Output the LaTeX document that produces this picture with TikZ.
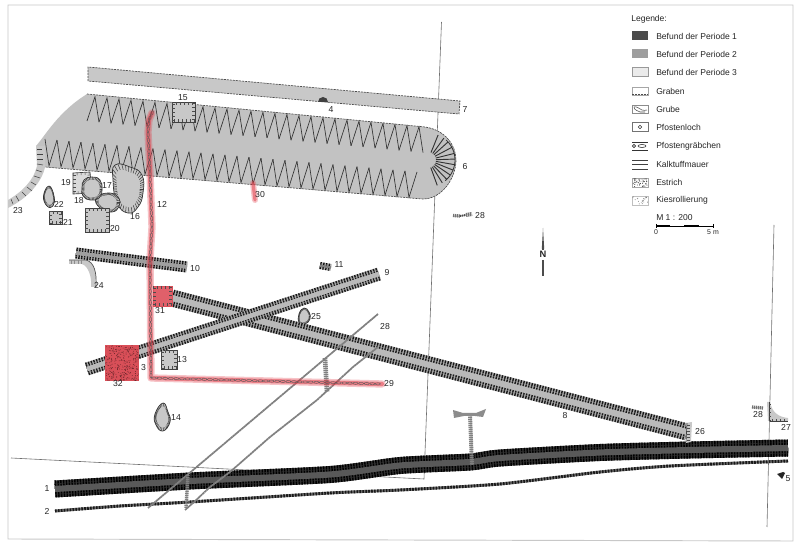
\documentclass[tikz,border=0pt]{standalone}
\usepackage{fontspec}
\setmainfont{Liberation Sans}
\usetikzlibrary{decorations.markings}
\definecolor{gA}{HTML}{C8C8C8}
\definecolor{gB}{HTML}{C2C2C2}
\definecolor{gD}{HTML}{333333}
\definecolor{frameC}{HTML}{C8C8C8}
\definecolor{siteC}{HTML}{707070}
\definecolor{redA}{HTML}{E0606A}
\definecolor{redB}{HTML}{D94F58}
\definecolor{redG}{HTML}{E23A46}
\tikzset{
  x=0.75pt,y=-0.75pt,
  lbl/.style={inner sep=0pt,font=\fontsize{6.5}{8}\selectfont,text=black!85},
  leg/.style={inner sep=0pt,anchor=west,font=\fontsize{6.4}{8}\selectfont,text=black!85},
  site/.style={draw=siteC,line width=.45pt},
  zig/.style={draw=black!80,line width=.5pt},
  pit/.style={draw=black!75,fill=gA,line width=.5pt,postaction=decorate,
    decoration={markings,mark=between positions 0 and 1 step 3pt with {\draw[line width=.35pt,draw=black!70] (0,0)--(0,-2pt);}}},
  swatch/.style={draw=black!55,line width=.4pt},
  grave/.style={draw=black!70,line width=.5pt,dash pattern=on 1.6pt off .7pt},
  chain/.style={postaction=decorate,decoration={markings,mark=between positions 0 and 1 step 4.2pt with {\draw[line width=.3pt,draw=black!65] (0,0) ellipse (1.9pt and .8pt);}}},
  rough/.style={draw=black!50,line width=1.3pt,dash pattern=on 1.8pt off .3pt},
  rougher/.style={draw=black!55,dash pattern=on 1pt off .5pt},
}
% layered band with rows of short ticks
\newcommand{\trenchband}[5]{%
  \draw[line width=#2*0.75pt,draw=#3] #1;
  \draw[line width=#2*0.75pt,draw=#4,dash pattern=on 1.05pt off 1.05pt] #1;
  \draw[line width=#2*0.48pt,draw=#3] #1;
  \draw[line width=#2*0.45pt,draw=#4,dash pattern=on 1.05pt off 1.05pt] #1;
  \draw[line width=#2*0.27pt,draw=#5] #1;
}
% pit with radial hachures: centre x, y, outline relative to centre
\newcommand{\blobpit}[3]{%
  \begin{scope}[shift={(#1,#2)}]
    \fill[gA] plot[smooth cycle,tension=.8] coordinates {#3};
    \begin{scope}
      \clip plot[smooth cycle,tension=.8] coordinates {#3};
      \foreach \a in {0,8,...,352}{\draw[line width=.4pt,draw=black!75] (0,0) -- (\a:40);}
      \fill[gA,scale=.76] plot[smooth cycle,tension=.8] coordinates {#3};
    \end{scope}
    \draw[draw=black!80,line width=.5pt] plot[smooth cycle,tension=.8] coordinates {#3};
  \end{scope}
}
\begin{document}
\begin{tikzpicture}
\useasboundingbox (0,0) rectangle (800,548);
\fill[white] (0,0) rectangle (800,548);
% page frame
\draw[frameC,line width=.7pt] (8,5) -- (793,5) -- (793,541) -- (8,539) -- cycle;
% site limits
\draw[site] (441.5,22) -- (424,479) -- (11,458);
\draw[site] (774,225) -- (767,527);

% Graben 7
\fill[gA] (88,67) -- (460,101) -- (459,114) -- (88,81) -- cycle;
\draw[grave] (88,81) -- (88,67) -- (460,101) -- (459,114) -- (88,81);
\fill[black!75] (318,102) arc[start angle=180,end angle=360,radius=5] -- cycle;

% Graben 6
\fill[gB] (87,94) -- (425,127) .. controls (445,130) and (456,145) .. (456,160)
  .. controls (456,178) and (442,199) .. (423,199) -- (45,167) -- (36,146)
  .. controls (45,136) and (58,112) .. (87,94) -- cycle;
\draw[grave] (87,94) -- (425,127) .. controls (445,130) and (456,145) .. (456,160)
  .. controls (456,178) and (442,199) .. (423,199) -- (45,167);
\foreach \i in {0,...,27}{
  \pgfmathsetmacro{\xa}{87+12*\i}
  \pgfmathsetmacro{\ya}{121+0.094*(\xa-87)}
  \pgfmathsetmacro{\xb}{\xa+8}
  \pgfmathsetmacro{\yb}{96+0.0925*(\xb-87)}
  \pgfmathsetmacro{\xc}{\xa+12}
  \pgfmathsetmacro{\yc}{121+0.094*(\xc-87)}
  \draw[zig] (\xa,\ya) -- (\xb,\yb) -- (\xc,\yc);
}
\foreach \i in {0,...,30}{
  \pgfmathsetmacro{\xa}{45+12*\i}
  \pgfmathsetmacro{\ya}{139+0.0887*(\xa-45)}
  \pgfmathsetmacro{\xb}{\xa+4}
  \pgfmathsetmacro{\yb}{165.5+0.0877*(\xb-45)}
  \pgfmathsetmacro{\xc}{\xa+12}
  \pgfmathsetmacro{\yc}{139+0.0887*(\xc-45)}
  \draw[zig] (\xa,\ya) -- (\xb,\yb) -- (\xc,\yc);
}
\begin{scope}[shift={(428,160)}]
  \foreach \a in {-68,-54,-42,-28,-14,-2,10,22,34,46,58,70}{
    \draw[line width=.7pt,draw=black!80] (\a:8) -- (\a:27);
  }
  \draw[line width=.6pt,draw=black!80] (-48:27) arc[start angle=-48,end angle=50,radius=27];
\end{scope}

% Grube 23
\fill[gA] (36,146) -- (45,146) -- (45,167) .. controls (42,182) and (28,198) .. (8,208) -- (8,200)
  .. controls (22,192) and (34,180) .. (37,166) -- cycle;
\foreach \xa/\ya/\xb/\yb in {37/149/42/149,37/154/43/154,37/159/43/159,37/164/43/165,36/170/42/172,34/176/40/178,31/182/36/185,27/187/32/191,22/192/26/196,16/196/19/201,11/199/13/204}{
  \draw[line width=.4pt,draw=black!75] (\xa,\ya) -- (\xb,\yb);
}
% Gruben
\draw[pit] (172,102) -- (195,102) -- (195,122) -- (172,122) -- cycle;
\draw[pit,fill=gA!70] (73,173) -- (90,172) -- (92,193) -- (73,194) -- cycle;
\blobpit{128}{189}{(-13,-24) (2,-22) (14,-14) (15,4) (10,18) (0,24) (-11,14) (-15,-9)}
\blobpit{107}{202}{(-11,-4) (1,-9) (11,-5) (12,4) (5,10) (-7,6)}
\blobpit{92}{189}{(-8,-9) (0,-12) (8,-9) (10,1) (7,9) (-2,11) (-9,7) (-10,-1)}
\draw[pit] (85,208) -- (109,208) -- (109,232) -- (85,232) -- cycle;
\draw[pit] (49,211) -- (62,211) -- (62,224) -- (49,224) -- cycle;
\blobpit{49}{196}{(0,-10) (5,0) (4,10) (-2,10) (-5.5,0)}
\draw[pit] (161,350) -- (177,350) -- (177,369) -- (161,369) -- cycle;
\blobpit{163}{417}{(0,-14) (5,-5) (7,5) (0,14) (-7,8) (-8,-3)}
\blobpit{304}{316}{(0,-8) (5,-4) (6,3) (1,8) (-5,7) (-5,-2)}
% Grube 24
\fill[gA] (69,260) -- (86,260) .. controls (94,262) and (97,272) .. (96,287) -- (91,287) .. controls (92,276) and (88,266) .. (82,264) -- (69,264) -- cycle;
\draw[line width=.5pt,draw=black!70] (69,260) -- (86,260) .. controls (94,262) and (97,272) .. (96,287);
\draw[line width=2.5pt,draw=black!45,dash pattern=on .5pt off 2pt] (71,262) -- (84,262);

% Graeben 8, 9, 10
\trenchband{(172,298) -- (687,432)}{17}{gray!65}{black!90}{gray!55}
\trenchband{(87,369) -- (379,274)}{13}{gray!65}{black!90}{gray!55}
\trenchband{(76,253) -- (187,267)}{11}{gray!65}{black!95}{gray!75}
\trenchband{(320,265.5) -- (331,267.5)}{7}{gray!60}{black}{gray}

% Graeben 1, 2
\trenchband{plot[smooth,tension=.4] coordinates {(55,489) (190,481) (330,474.5) (400,465.5) (470,462) (500,458) (600,452.5) (690,450) (788,448)}}{17}{gD}{black}{black!65}
\draw[line width=2.2pt,draw=black!55] plot[smooth,tension=.4] coordinates {(55,511) (120,506) (190,502) (330,493) (400,490) (500,484) (600,472) (670,466) (788,461)};
\draw[line width=2.2pt,draw=black!90,dash pattern=on 1.2pt off 1pt] plot[smooth,tension=.4] coordinates {(55,511) (120,506) (190,502) (330,493) (400,490) (500,484) (600,472) (670,466) (788,461)};

% Kiesrollierung 28
\draw[rough] (378,314) -- (148,508);
\draw[rough] (378,347) -- (353,367) -- (317,400) -- (270,437) -- (230,472) -- (210,487) -- (193,503) -- (185,510);
\draw[rougher,line width=2.6pt,draw=gray] (188,475) -- (186,508);
\draw[rougher,line width=3.5pt,draw=gray] (325,358) -- (327,392);
% T
\draw[rougher,line width=3pt,draw=gray] (470,415) -- (472,465);
\fill[gray!90] (453,410) -- (463,413) -- (476,413) -- (486,409) -- (483,417) -- (475,416) -- (464,416) -- (454,418) -- cycle;

% small features
\draw[rougher,line width=2.5pt] (453,215.5) -- (460,216);
\draw[rougher,line width=1.5pt,draw=black!70] (460,216) -- (466,215);
\draw[rougher,line width=3pt] (466,215) -- (472,214);
\draw[rougher,line width=2.5pt] (752,407) -- (763,408);
\fill[gA] (767,402) -- (770,402) .. controls (772,412) and (778,417) .. (788,418) -- (788,421) -- (768,421) -- cycle;
\draw[line width=.5pt,draw=black!75] (770,421) -- (788,421) (769,402) -- (769,421);
\foreach \xa in {772,776,...,786}{\draw[line width=.35pt,draw=black!70] (\xa,421) -- ++(0,-2);}
\foreach \ya in {404,408,...,420}{\draw[line width=.35pt,draw=black!70] (769,\ya) -- ++(2,0);}
\fill[black!85] (777,474) -- (783,472) -- (785,473) -- (782,479) -- (780,477) -- cycle;
\fill[gA] (686,423) -- (692,422) -- (691,442) -- (686,443) -- cycle;
\draw[line width=.5pt,draw=black!75] (687,423) -- (686,442);
\foreach \ya in {425,428,...,441}{\draw[line width=.35pt,draw=black!70] (687,\ya) -- ++(3,0);}

% red overlay
\def\redline{(152,113) -- (149,120) -- (148,132) -- (150,173) -- (152,227) -- (150,260) -- (151,378) -- (382,384)}
\draw[redG,opacity=.3,line width=5.5pt,line cap=round,line join=round] \redline;
\draw[redG,opacity=.5,line width=3.2pt,line cap=round,line join=round] \redline;
\path[chain] \redline;
\draw[redG,opacity=.3,line width=4.5pt,line cap=round] (253,183) -- (255,200);
\draw[redG,opacity=.5,line width=2.4pt,line cap=round] (253,183) -- (255,200);
\draw[pit,draw=redB,fill=redA] (153,286) -- (172,286) -- (172,306) -- (153,306) -- cycle;
\fill[redB] (105,345) rectangle (139,381);
\pgfmathsetseed{4217}
\foreach \k in {1,...,300}{
  \pgfmathsetmacro{\xa}{105.5+33*rnd}
  \pgfmathsetmacro{\ya}{345.5+35*rnd}
  \fill[black!55!redB] (\xa,\ya) circle (.42);
}

% north
\fill[black!70] (543,228) -- (544.2,249) -- (541.8,249) -- cycle;
\draw[black!70,line width=.8pt] (543,249) -- (543,250) (543,260) -- (543,276);
\node[lbl,font=\fontsize{7}{8}\selectfont\bfseries] (north) at (543,254.5) {N};

% labels
\node[lbl] (l1) at (47,489) {1};
\node[lbl] (l2) at (47,511) {2};
\node[lbl] (l3) at (143.5,368) {3};
\node[lbl] (l4) at (331,109.5) {4};
\node[lbl] (l5) at (788,479) {5};
\node[lbl] (l6) at (465,167) {6};
\node[lbl] (l7) at (465,110) {7};
\node[lbl] (l8) at (565,416) {8};
\node[lbl] (l9) at (387,273) {9};
\node[lbl] (l10) at (195,269) {10};
\node[lbl] (l11) at (339,265) {11};
\node[lbl] (l12) at (162,204) {12};
\node[lbl] (l13) at (182,360) {13};
\node[lbl] (l14) at (176,418) {14};
\node[lbl] (l15) at (183,98) {15};
\node[lbl] (l16) at (135,217) {16};
\node[lbl] (l17) at (107,186) {17};
\node[lbl] (l18) at (79,201) {18};
\node[lbl] (l19) at (66,183) {19};
\node[lbl] (l20) at (115,229) {20};
\node[lbl] (l21) at (68,222) {21};
\node[lbl] (l22) at (59,204) {22};
\node[lbl] (l23) at (18,211) {23};
\node[lbl] (l24) at (99,285) {24};
\node[lbl] (l25) at (316,317) {25};
\node[lbl] (l26) at (700,432) {26};
\node[lbl] (l27) at (786,427) {27};
\node[lbl] (l28a) at (480,216) {28};
\node[lbl] (l28b) at (385,327) {28};
\node[lbl] (l28c) at (758,415) {28};
\node[lbl] (l29) at (389,384) {29};
\node[lbl] (l30) at (260,195) {30};
\node[lbl] (l31) at (160,311) {31};
\node[lbl] (l32) at (118,384) {32};

% legend
\node[leg] (legtitle) at (631,19) {Legende:};
\node[leg] (lega) at (656,36) {Befund der Periode 1};
\node[leg] (legb) at (656,54) {Befund der Periode 2};
\node[leg] (legc) at (656,72) {Befund der Periode 3};
\node[leg] (legd) at (656,91) {Graben};
\node[leg] (lege) at (656,109) {Grube};
\node[leg] (legf) at (656,127) {Pfostenloch};
\node[leg] (legg) at (656,146) {Pfostengräbchen};
\node[leg] (legh) at (656,164) {Kalktuffmauer};
\node[leg] (legi) at (656,182) {Estrich};
\node[leg] (legj) at (656,200) {Kiesrollierung};
\node[leg] (scaletext) at (656,218) {M 1 : 200};
\node[lbl,font=\fontsize{5.2}{6}\selectfont] (scale0) at (656,232) {0};
\node[lbl,font=\fontsize{5.2}{6}\selectfont] (scale5) at (713,232) {5 m};

\fill[black!70] (632,31.5) rectangle (648,40.5);
\fill[black!38] (632,49.5) rectangle (648,58.5);
\draw[swatch,draw=black!40,fill=black!8] (632,67.5) rectangle (648,76.5);
% Graben
\draw[swatch,draw=black!35] (632,87) rectangle (648,95.5);
\draw[line width=1.3pt,draw=black!70,dash pattern=on .6pt off .5pt] (632,94.5) -- (648,94.5);
% Grube
\draw[swatch,draw=black!45] (632,105) rectangle (648,113.5);
\draw[line width=.4pt,draw=black!70] (634,107) .. controls (637,106) and (639,109) .. (642,110) .. controls (644,111) and (645,110) .. (647,110);
\draw[line width=.4pt,draw=black!70] (634,107) .. controls (634,110) and (638,111) .. (640,112) -- (645,112);
% Pfostenloch
\draw[swatch] (632,122.5) rectangle (648,131.5);
\draw[line width=.4pt,draw=black!80] (640,127) circle (1.7);
% Pfostengraebchen
\draw[line width=.45pt,draw=black!80] (632,142) -- (648,142) (632,150) -- (648,150);
\draw[line width=.45pt,draw=black!80] (634,146) circle (1.6);
\draw[line width=.45pt,draw=black!80] (642,146) ellipse (4 and 1.5);
% Kalktuffmauer
\draw[line width=.4pt,draw=black!75] (632,160) -- (648,160) (632,164.5) -- (648,164.5) (632,169) -- (648,169);
% Estrich / Kiesrollierung
\draw[swatch,draw=black!35] (632,178) rectangle (648,187);
\draw[swatch,draw=black!25] (632,196) rectangle (648,205);
\pgfmathsetseed{991}
\foreach \k in {1,...,55}{
  \pgfmathsetmacro{\xa}{632.5+15*rnd}
  \pgfmathsetmacro{\ya}{178.5+8*rnd}
  \fill[black!75] (\xa,\ya) circle (.45);
}
\foreach \k in {1,...,22}{
  \pgfmathsetmacro{\xa}{632.5+15*rnd}
  \pgfmathsetmacro{\ya}{196.5+8*rnd}
  \fill[black!55] (\xa,\ya) circle (.45);
}
% scale bar
\draw[black,line width=.9pt] (656,226) -- (670,226) (684,226) -- (699,226);
\draw[black,line width=.4pt] (656,224) -- (656,228) (713,224) -- (713,228) (670,226) -- (684,226) (699,226) -- (713,226);
\end{tikzpicture}
\end{document}
